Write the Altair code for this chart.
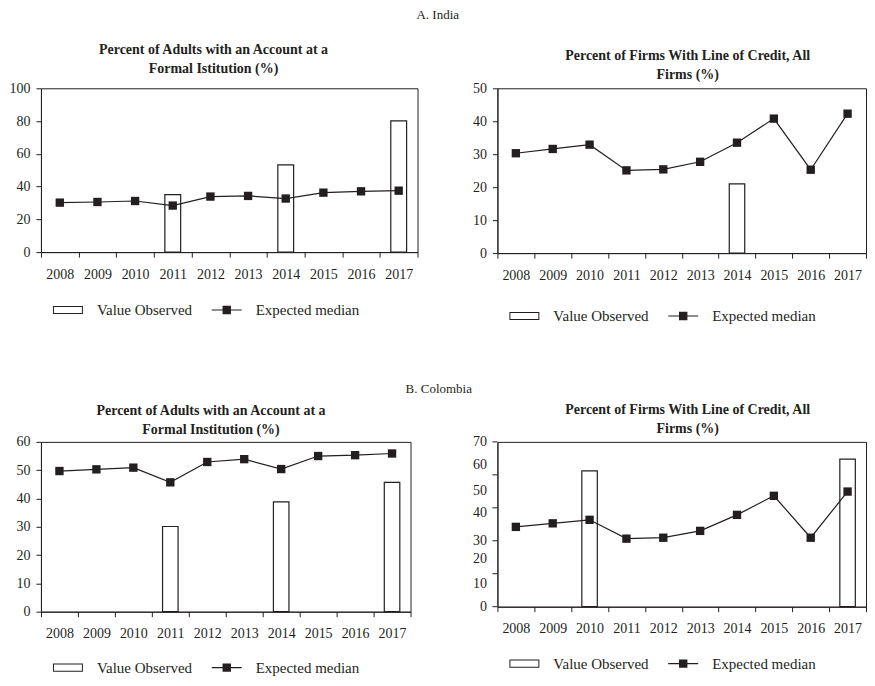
import altair as alt
import pandas as pd

FONT = "Liberation Serif"
INK = "#231f20"

years = ["2008", "2009", "2010", "2011", "2012", "2013", "2014", "2015", "2016", "2017"]
legend_labels = ["Value Observed", "Expected median"]

# A. India
ind_acc_expected = [30.2, 30.6, 31.2, 28.4, 33.9, 34.3, 32.7, 36.3, 37.1, 37.5]
ind_acc_obs_years = ["2011", "2014", "2017"]
ind_acc_obs = [35.1, 53.3, 80.1]

ind_cred_expected = [30.3, 31.6, 32.9, 25.1, 25.4, 27.7, 33.5, 40.8, 25.3, 42.3]
ind_cred_obs_years = ["2014"]
ind_cred_obs = [21.0]

# B. Colombia
col_acc_expected = [49.7, 50.3, 50.9, 45.7, 52.9, 53.9, 50.4, 55.0, 55.3, 55.9]
col_acc_obs_years = ["2011", "2014", "2017"]
col_acc_obs = [30.1, 38.8, 45.7]

col_cred_expected = [33.9, 35.4, 36.9, 28.9, 29.3, 32.2, 39.0, 47.1, 29.3, 48.9]
col_cred_obs_years = ["2010", "2017"]
col_cred_obs = [57.7, 62.7]

# axis tick values / labels
ind_acc_yticks = [0, 20, 40, 60, 80, 100]
ind_cred_yticks = [0, 10, 20, 30, 40, 50]
col_acc_yticks = [0, 10, 20, 30, 40, 50, 60]
# the last panel's y labels sit off their tick marks in the source
col_cred_label_pos = [0, 10, 20.5, 28, 40, 49.5, 60.5, 70]
col_cred_label_txt = ["0", "10", "20", "30", "40", "50", "60", "70"]
col_cred_tick_pos = [0, 14, 28, 42, 56, 70]

acc_title_ind = ["Percent of Adults with an Account at a", "Formal Istitution (%)"]
acc_title_col = ["Percent of Adults with an Account at a", "Formal Institution (%)"]
cred_title = ["Percent of Firms With Line of Credit, All", "Firms (%)"]

# legend glyphs (unit square, scaled by symbol size): hollow box, line with square
RECT = "M-1,-0.27H1V0.27H-1Z M-0.933,-0.203V0.203H0.933V-0.203Z"
LINESYM = "M-1,-0.035H1V0.035H-1Z M-0.28,-0.28H0.28V0.28H-0.28Z"


def panel(title_lines, expected, obs_years, obs_vals, ymax, width, height,
          title_pad, title_offset, title_frame, title_dx, legend_x, legend_y,
          yticks=None, label_pos=None, label_txt=None, tick_pos=None, min_extent=0):
    line_df = pd.DataFrame({"year": years, "value": expected})
    bar_df = pd.DataFrame({"year": obs_years, "value": obs_vals})
    leg_df = pd.DataFrame({"series": legend_labels})

    x = alt.X(
        "year:N",
        scale=alt.Scale(domain=years, paddingInner=0, paddingOuter=0),
        axis=alt.Axis(title=None, labelAngle=0, tickBand="extent", labelPadding=10),
    )
    yscale = alt.Scale(domain=[0, ymax], nice=False, zero=True)
    if label_pos is None:
        yaxis = alt.Axis(title=None, values=yticks, labelPadding=6, minExtent=min_extent)
    else:
        expr = "''"
        for p, t in zip(label_pos, label_txt):
            expr = f"datum.value == {p} ? '{t}' : ({expr})"
        yaxis = alt.Axis(title=None, values=label_pos, labelExpr=expr, ticks=False,
                         labelPadding=11, labelOverlap=False, minExtent=min_extent)
    y = alt.Y("value:Q", scale=yscale, axis=yaxis)

    leg = alt.Legend(
        title=None, orient="none", legendX=legend_x, legendY=legend_y,
        direction="horizontal", columns=2, symbolSize=900,
        labelFont=FONT, labelFontSize=15, labelColor=INK, labelOffset=14,
        columnPadding=19, symbolFillColor=INK, symbolStrokeWidth=0,
        padding=0, labelLimit=0,
    )

    legend_layer = alt.Chart(leg_df).transform_filter("false").mark_point(
        filled=True, color=INK, size=900, strokeWidth=0, opacity=1
    ).encode(
        shape=alt.Shape("series:N", scale=alt.Scale(domain=legend_labels, range=[RECT, LINESYM]),
                        legend=leg),
    )
    bars = alt.Chart(bar_df).mark_bar(
        fill="white", stroke=INK, strokeWidth=1.2, width=alt.RelativeBandSize(0.42)
    ).encode(x=x, y=y)
    line = alt.Chart(line_df).mark_line(color=INK, strokeWidth=1.2).encode(x=x, y=y)
    pts = alt.Chart(line_df).mark_square(size=70, color=INK, opacity=1).encode(x=x, y=y)
    layers = [legend_layer, bars, line, pts]
    if tick_pos is not None:
        tick_df = pd.DataFrame({"value": tick_pos})
        ticks = alt.Chart(tick_df).mark_rule(color=INK, strokeWidth=1).encode(
            y=y, x=alt.value(-5), x2=alt.value(0)
        )
        layers.append(ticks)
    return alt.layer(*layers).properties(
        width=width, height=height,
        title=alt.TitleParams(
            text=" ", fontSize=1, lineHeight=1,
            subtitle=title_lines, subtitleFont=FONT, subtitleFontSize=14,
            subtitleFontWeight="bold", subtitleColor=INK, subtitleLineHeight=19,
            subtitlePadding=title_pad, offset=title_offset, frame=title_frame,
            anchor="middle", dx=title_dx,
        ),
    )


tl = panel(acc_title_ind, ind_acc_expected, ind_acc_obs_years, ind_acc_obs, 100, 377, 164,
           0, 5, "bounds", 0, 12, 207, yticks=ind_acc_yticks, min_extent=30)
tr = panel(cred_title, ind_cred_expected, ind_cred_obs_years, ind_cred_obs, 50, 369, 165,
           13, -1, "group", 6, 12, 213, yticks=ind_cred_yticks)
bl = panel(acc_title_col, col_acc_expected, col_acc_obs_years, col_acc_obs, 60, 370, 170,
           0, -2, "bounds", 0, 12, 211, yticks=col_acc_yticks, min_extent=30)
br = panel(cred_title, col_cred_expected, col_cred_obs_years, col_cred_obs, 70, 369, 165,
           3, -1, "group", 6, 12, 207, label_pos=col_cred_label_pos,
           label_txt=col_cred_label_txt, tick_pos=col_cred_tick_pos)

row_a = alt.hconcat(tl, tr, spacing=53).resolve_scale(shape="independent").properties(
    title=alt.TitleParams("A. India", font=FONT, fontSize=13, fontWeight="normal",
                          color=INK, offset=13, anchor="middle")
)
row_b = alt.hconcat(bl, br, spacing=60).resolve_scale(shape="independent").properties(
    title=alt.TitleParams("B. Colombia", font=FONT, fontSize=13, fontWeight="normal",
                          color=INK, offset=2, anchor="middle")
)

chart = alt.vconcat(row_a, row_b, spacing=58).resolve_scale(shape="independent").properties(
    padding={"left": 0, "top": 0, "right": 0, "bottom": 0}
).configure_view(
    stroke=INK, strokeWidth=1
).configure_axis(
    domainColor=INK, tickColor=INK, labelColor=INK, labelFont=FONT, labelFontSize=14,
    tickSize=5, grid=False, domainWidth=1, tickWidth=1,
)

chart.save("out.html", embed_options={"renderer": "svg", "actions": False})
